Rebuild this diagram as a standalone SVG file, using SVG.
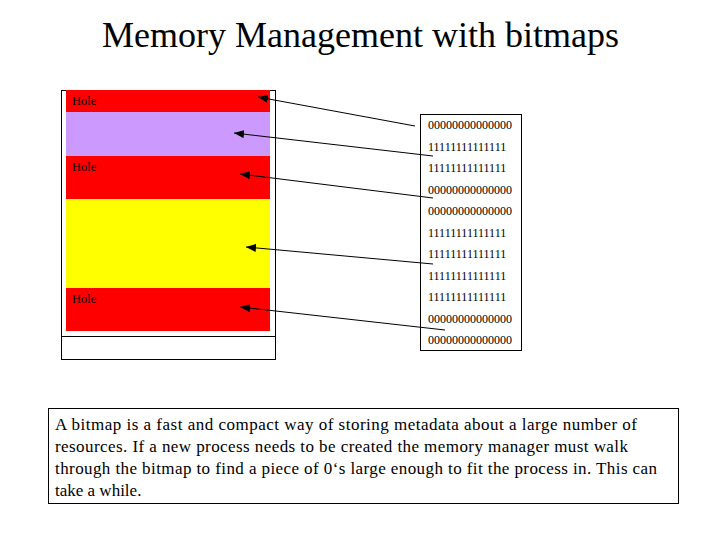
<svg xmlns="http://www.w3.org/2000/svg" width="720" height="540" viewBox="0 0 720 540">
<style>
.serif{font-family:"Liberation Serif","Times New Roman",serif;fill:#000}
.hole{font-size:12.5px}
.bits{font-size:12px}
.box{fill:#fff;stroke:#000;stroke-width:1}
.conn{stroke:#000;stroke-width:1;fill:none;marker-end:url(#ah)}
</style>
<defs>
<marker id="ah" viewBox="0 0 10 8" refX="10" refY="4" markerWidth="10" markerHeight="8" markerUnits="userSpaceOnUse" orient="auto">
<path d="M0,0 L10,4 L0,8 Z" fill="#000"/>
</marker>
</defs>
<rect width="720" height="540" fill="#fff"/>
<text class="serif" x="102" y="47" font-size="36" textLength="517" lengthAdjust="spacingAndGlyphs">Memory Management with bitmaps</text>
<g id="memory">
<rect class="box" x="61.5" y="90.5" width="214" height="269"/>
<line x1="61.5" y1="336.5" x2="275.5" y2="336.5" stroke="#000"/>
<rect x="66" y="90" width="204" height="22" fill="#ff0000"/>
<rect x="66" y="112" width="204" height="44" fill="#cc99ff"/>
<rect x="66" y="156" width="204" height="43" fill="#ff0000"/>
<rect x="66" y="199" width="204" height="89" fill="#ffff00"/>
<rect x="66" y="288" width="204" height="43" fill="#ff0000"/>
<text class="serif hole" x="72" y="105">Hole</text>
<text class="serif hole" x="72" y="171">Hole</text>
<text class="serif hole" x="72" y="303">Hole</text>
</g>
<g id="bitmap">
<rect class="box" x="420.5" y="114.5" width="101" height="236"/>
<g class="serif bits">
<text x="428" y="129">00000000000000</text>
<text x="428" y="151">11111111111111</text>
<text x="428" y="172">11111111111111</text>
<text x="428" y="194">00000000000000</text>
<text x="428" y="215">00000000000000</text>
<text x="428" y="237">11111111111111</text>
<text x="428" y="258">11111111111111</text>
<text x="428" y="280">11111111111111</text>
<text x="428" y="301">11111111111111</text>
<text x="428" y="323">00000000000000</text>
<text x="428" y="344">00000000000000</text>
</g>
</g>
<g id="connectors">
<line class="conn" x1="415" y1="126" x2="258" y2="97"/>
<line class="conn" x1="433" y1="156" x2="234" y2="133"/>
<line class="conn" x1="433" y1="198" x2="240" y2="174"/>
<line class="conn" x1="433" y1="264" x2="246" y2="247"/>
<line class="conn" x1="445" y1="330" x2="240" y2="307"/>
</g>
<g id="note">
<rect class="box" x="48.5" y="408.5" width="630" height="95"/>
<g class="serif" font-size="17">
<text x="55" y="430" textLength="582" lengthAdjust="spacing">A bitmap is a fast and compact way of storing metadata about a large number of</text>
<text x="55" y="452" textLength="573" lengthAdjust="spacing">resources. If a new process needs to be created the memory manager must walk</text>
<text x="55" y="474" textLength="602" lengthAdjust="spacing">through the bitmap to find a piece of 0‘s large enough to fit the process in. This can</text>
<text x="55" y="496">take a while.</text>
</g>
</g>
</svg>
